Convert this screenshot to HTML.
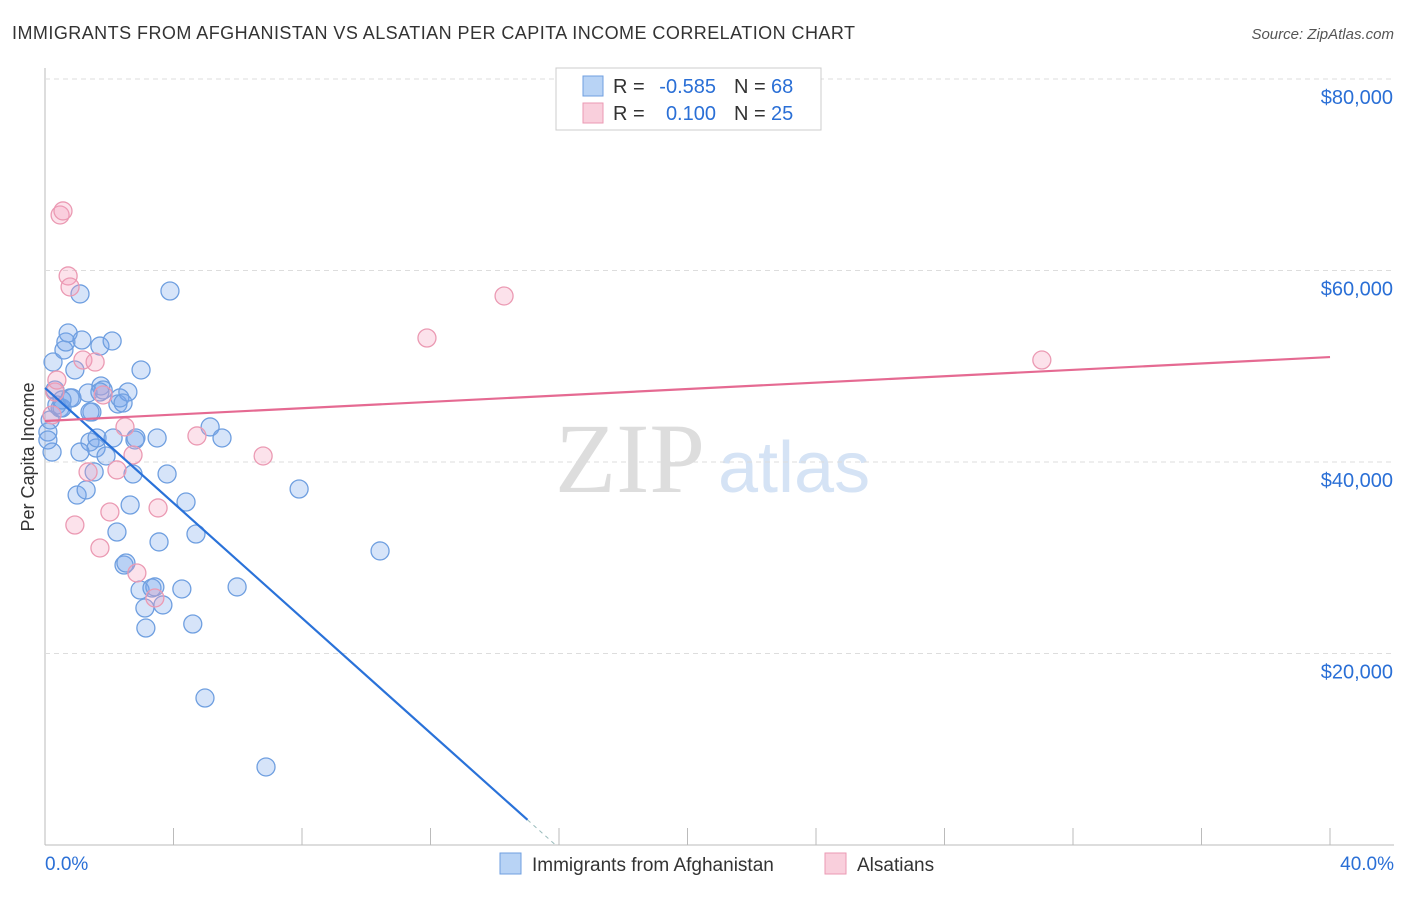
<!DOCTYPE html>
<html><head><meta charset="utf-8"><style>
body{margin:0;background:#fff;font-family:"Liberation Sans",sans-serif}
</style></head><body>
<svg id="c" width="1406" height="892" xmlns="http://www.w3.org/2000/svg">
<text x="12" y="39" font-size="18" fill="#333" textLength="843">IMMIGRANTS FROM AFGHANISTAN VS ALSATIAN PER CAPITA INCOME CORRELATION CHART</text>
<text x="1394" y="39" font-size="15" fill="#555" font-style="italic" text-anchor="end">Source: ZipAtlas.com</text>
<text x="34" y="457" font-size="18" fill="#333" transform="rotate(-90 34 457)" text-anchor="middle">Per Capita Income</text>
<text x="555" y="492" font-size="100" fill="#ddd" font-family="Liberation Serif">ZIP</text>
<text x="718" y="492" font-size="72" fill="#d5e3f5">atlas</text>
<g id="grid"></g><g id="pts"></g><g id="lines"></g>
<g>
<rect x="556" y="68" width="265" height="62" fill="#fff" stroke="#ccc"/>
<rect x="583" y="76" width="20" height="20" fill="#b8d3f5" stroke="#6f9fe0"/>
<text x="613" y="93" font-size="20" fill="#333">R =</text>
<text x="716" y="93" font-size="20" fill="#2a6fd6" text-anchor="end">-0.585</text>
<text x="734" y="93" font-size="20" fill="#333">N =</text>
<text x="771" y="93" font-size="20" fill="#2a6fd6">68</text>
<rect x="583" y="103" width="20" height="20" fill="#f9cfdc" stroke="#eb9ab3"/>
<text x="613" y="120" font-size="20" fill="#333">R =</text>
<text x="716" y="120" font-size="20" fill="#2a6fd6" text-anchor="end">0.100</text>
<text x="734" y="120" font-size="20" fill="#333">N =</text>
<text x="771" y="120" font-size="20" fill="#2a6fd6">25</text>
</g>
<g>
<rect x="500" y="853" width="21" height="21" fill="#b8d3f5" stroke="#6f9fe0"/>
<text x="532" y="871" font-size="19" fill="#333">Immigrants from Afghanistan</text>
<rect x="825" y="853" width="21" height="21" fill="#f9cfdc" stroke="#eb9ab3"/>
<text x="857" y="871" font-size="19" fill="#333">Alsatians</text>
</g>
<text x="45" y="870" font-size="19" fill="#2a6fd6">0.0%</text>
<text x="1394" y="870" font-size="19" fill="#2a6fd6" text-anchor="end">40.0%</text>
</svg>
<script>
const yTicks=[20000,40000,60000,80000];
const yTickLabels=["$20,000","$40,000","$60,000","$80,000"];
const xTicks=[0,4,8,12,16,20,24,28,32,36,40];
const blueX=[0.09,0.16,0.22,0.25,0.31,0.37,0.47,0.53,0.59,0.65,0.72,0.78,0.84,0.93,1.0,1.09,1.15,1.28,1.34,1.4,1.46,1.53,1.59,1.62,1.71,1.74,1.81,1.9,2.09,2.12,2.24,2.27,2.33,2.46,2.52,2.58,2.65,2.74,2.8,2.83,2.96,2.99,3.11,3.14,3.33,3.42,3.49,3.55,3.67,3.8,3.89,4.26,4.39,4.6,4.7,4.98,5.14,5.51,5.98,6.88,7.91,10.43,2.43,1.4,1.71,0.53,1.09,0.09];
const blueY=[43130,44390,41040,50440,47520,45950,45640,45640,51700,52530,53470,46690,46690,49610,36550,57550,52740,37080,47210,42090,45220,38960,41460,42510,52110,47940,47520,40630,52640,42510,32690,46060,46690,29240,29450,47310,35510,38750,42300,42510,26630,49610,24750,22660,26840,26950,42510,31650,25070,38750,57860,26740,35820,23080,32480,15350,43660,42510,26950,8150,37180,30710,46160,45220,47310,46480,41040,42300];
const pinkX=[0.22,0.31,0.37,0.47,0.56,0.72,0.78,0.93,1.18,1.34,1.56,1.71,1.81,2.02,2.24,2.49,2.74,2.86,3.42,3.52,4.73,6.79,14.29,11.89,31.03];
const pinkY=[44910,47310,48560,65800,66220,59430,58280,33420,50650,38960,50440,31020,47000,34780,39170,43660,40730,28410,25800,35200,42720,40630,57340,52950,50650];
const blueFit=[47730,-3003];
const pinkFit=[44280,167];
const X=v=>45+v/40*1285, Y=v=>845-v/20000*191.5;
const NS="http://www.w3.org/2000/svg";
function mk(p,t,a){const e=document.createElementNS(NS,t);for(const k in a)e.setAttribute(k,a[k]);p.appendChild(e);return e;}
const g=document.getElementById('grid');
const ax=mk(g,'line',{x1:45,y1:68,x2:45,y2:845,stroke:'#bbb'});


const bx=mk(g,'line',{x1:45,y1:845,x2:1394,y2:845,stroke:'#bbb'});


yTicks.forEach((t,i)=>{
 const l=mk(g,'line',{x1:45,y1:Y(t),x2:1394,y2:Y(t),stroke:'#ddd','stroke-dasharray':'5,4'});
 
 
 const tx=mk(g,'text',{x:1393,y:Y(t)+25,'font-size':20,fill:'#2a6fd6','text-anchor':'end'});
 tx.textContent=yTickLabels[i];
 
 
});
xTicks.forEach(t=>{
 const l=mk(g,'line',{x1:X(t),y1:828,x2:X(t),y2:845,stroke:'#bbb'});
 
 
});
const P=document.getElementById('pts');
blueX.forEach((x,i)=>{
 const c=mk(P,'circle',{cx:X(x),cy:Y(blueY[i]),r:9,fill:'rgba(120,165,235,0.3)',stroke:'#6f9fe0','stroke-width':1.3});
 
 
});
pinkX.forEach((x,i)=>{
 const c=mk(P,'circle',{cx:X(x),cy:Y(pinkY[i]),r:9,fill:'rgba(245,160,190,0.3)',stroke:'#eb9ab3','stroke-width':1.3});
 
 
});
const L=document.getElementById('lines');
const xz=-blueFit[0]/blueFit[1], xs=xz*0.945;
const b1=mk(L,'line',{x1:X(0),y1:Y(blueFit[0]),x2:X(xs),y2:Y(blueFit[0]+blueFit[1]*xs),stroke:'#2a72d9','stroke-width':2.2});


const b2=mk(L,'line',{x1:X(xs),y1:Y(blueFit[0]+blueFit[1]*xs),x2:X(xz),y2:Y(0),stroke:'#9bb',"stroke-dasharray":'4,4','stroke-width':1});


const p1=mk(L,'line',{x1:X(0),y1:Y(pinkFit[0]),x2:X(40),y2:Y(pinkFit[0]+pinkFit[1]*40),stroke:'#e56a92','stroke-width':2.2});


</script>
</body></html>
